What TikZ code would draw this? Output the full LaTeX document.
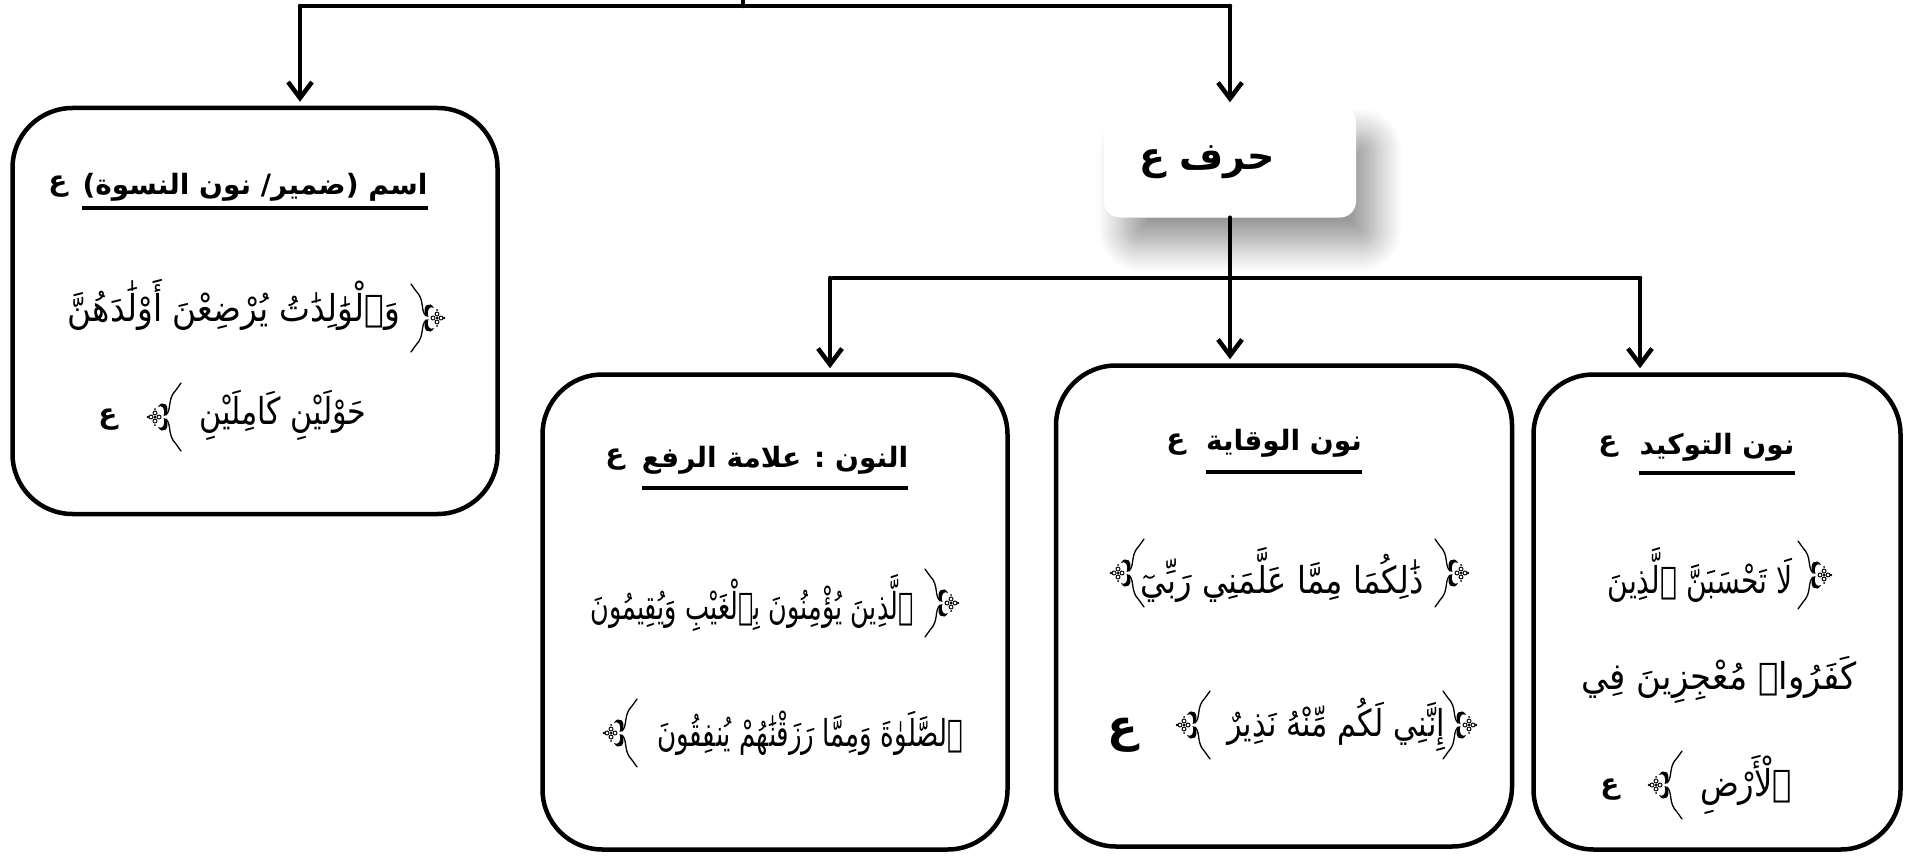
\documentclass[tikz,border=0pt]{standalone}
\usepackage{fontspec}
\usetikzlibrary{arrows.meta,shadows.blur}
\newfontfamily\arabicfont[Script=Arabic]{DejaVu Sans}
\TeXXeTstate=1
\tikzset{
	% ornate bracket of a verse, opening side; mirrored with xscale=-1
	orn/.pic={
		\draw[line width=1.3pt] (-5,-34)--(0,-27) .. controls (9,-18) and (4,-8) .. (10,-2)
			(-5,34)--(0,27) .. controls (9,18) and (4,8) .. (10,2);
		\fill (10,-2) .. controls (5,-12) and (14,-18) .. (18,-10) .. controls (14,-13) and (10,-8) .. (12.5,-1) -- cycle;
		\fill (10,2) .. controls (5,12) and (14,18) .. (18,10) .. controls (14,13) and (10,8) .. (12.5,1) -- cycle;
		\foreach \a in {0,90,180,270} \draw[line width=1pt] (21,0)++(\a:4) circle (2);
		\fill (21,0) circle (1.5) (28,0) circle (1.3) (21,-8) circle (1) (21,8) circle (1);
	}
}
\begin{document}
\begin{tikzpicture}[x=1pt,y=-1pt,>={Straight Barb[length=16pt,width=24pt]}, line join=round, line cap=round,
	link/.style={line width=4.5pt},
	arr/.style={line width=4.5pt,->,shorten >=4pt},
	kbox/.style={draw,line width=4.5pt,rounded corners=60pt,inner sep=0pt},
	title/.style={font=\arabicfont\bfseries\fontsize{28}{33}\selectfont,inner sep=0pt},
	aya/.style={font=\arabicfont\fontsize{37}{44}\selectfont,inner sep=0pt}]
				\useasboundingbox (0,0) rectangle (1910,856);
				% boxes
				\node[kbox,minimum width=485pt,minimum height=406pt] (ism) at (255,311) {};
				\node[kbox,minimum width=465pt,minimum height=475pt] (raf) at (775,612) {};
				\node[kbox,minimum width=456pt,minimum height=481pt] (wiq) at (1284,606) {};
				\node[kbox,minimum width=367pt,minimum height=475pt] (tawk) at (1717,612) {};
				\node[fill=white,rounded corners=16pt,minimum width=252pt,minimum height=111pt,
					blur shadow={shadow xshift=20pt,shadow yshift=-28pt,shadow blur radius=26pt,shadow blur steps=16,shadow opacity=40}] (harf) at (1230,162) {};
				\path
				(743,0) coordinate (top)
				(300,6) coordinate (barL)
				(1230,6) coordinate (barR)
				(830,278) coordinate (subL)
				(1230,278) coordinate (subM)
				(1640,278) coordinate (subR)
				;
				% connectors
				\draw[link] (top)--(top |- barL) (barL)--(barR);
				\draw[arr] (barL)--(barL |- ism.north);
				\draw[arr] (barR)--(harf.north);
				\draw[link,shorten <=3pt] (harf.south)--(subM) (subL)--(subR);
				\draw[arr] (subL)--(subL |- raf.north);
				\draw[arr] (subM)--(subM |- wiq.north);
				\draw[arr] (subR)--(subR |- tawk.north);
				% titles
				\node[title] (ismT) at (255,187) {\beginR اسم (ضمير/ نون النسوة)\endR};
				\node[title] (rafT) at (775,460) {\beginR النون : علامة الرفع\endR};
				\node[title] (wiqT) at (1284,443) {\beginR نون الوقاية\endR};
				\node[title] (tawkT) at (1717,447) {\beginR نون التوكيد\endR};
				\node[title,font=\arabicfont\bfseries\fontsize{38}{44}\selectfont] (harfT) at (1207,162) {\beginR حرف\hspace{14pt}ع\endR};
				\foreach \n/\y in {ismT/208,rafT/488,wiqT/472,tawkT/473}
				\draw[line width=3.5pt,line cap=butt] (\n.west |- 0,\y)--(\n.east |- 0,\y);
				\foreach \n/\x/\y in {ismE/58/187,rafE/615/460,wiqE/1176/445,tawkE/1608/447,ismF/108/420,tawkF/1610/790}
				\node[title] (\n) at (\x,\y) {\beginR ع\endR};
				\node[title,scale=1.6] (wiqF) at (1123,735) {\beginR ع\endR};
				% verses
				\foreach \n/\x/\y/\w/\t in {
					ism1/234/305/332/{وَٱلْوَٰلِدَٰتُ يُرْضِعْنَ أَوْلَٰدَهُنَّ},
					ism2/283/415/167/{حَوْلَيْنِ كَامِلَيْنِ},
					raf1/752/603/323/{ٱلَّذِينَ يُؤْمِنُونَ بِٱلْغَيْبِ وَيُقِيمُونَ},
					raf2/810/733/306/{ٱلصَّلَوٰةَ وَمِمَّا رَزَقْنَٰهُمْ يُنفِقُونَ},
					wiq1/1282/575/283/{ذَٰلِكُمَا مِمَّا عَلَّمَنِي رَبِّيٓ},
					wiq2/1336/725/218/{إِنَّنِي لَكُم مِّنْهُ نَذِيرٌ},
					tawk1/1700/575/185/{لَا تَحْسَبَنَّ ٱلَّذِينَ},
					tawk2/1719/680/275/{كَفَرُوا۟ مُعْجِزِينَ فِي},
					tawk3/1746/785/92/{ٱلْأَرْضِ}}
				\node[aya] (\n) at (\x,\y) {\resizebox{\w pt}{\height}{\beginR\t\endR}};
				% brackets
				\foreach \x/\y in {416/318,930/603,1440/573,1448/725,1803/575}
				\pic at (\x,\y) {orn};
				\foreach \x/\y in {176/417,632/733,1139/573,1205/725,1677/785}
				\pic[xscale=-1] at (\x,\y) {orn};
\end{tikzpicture}
\end{document}
